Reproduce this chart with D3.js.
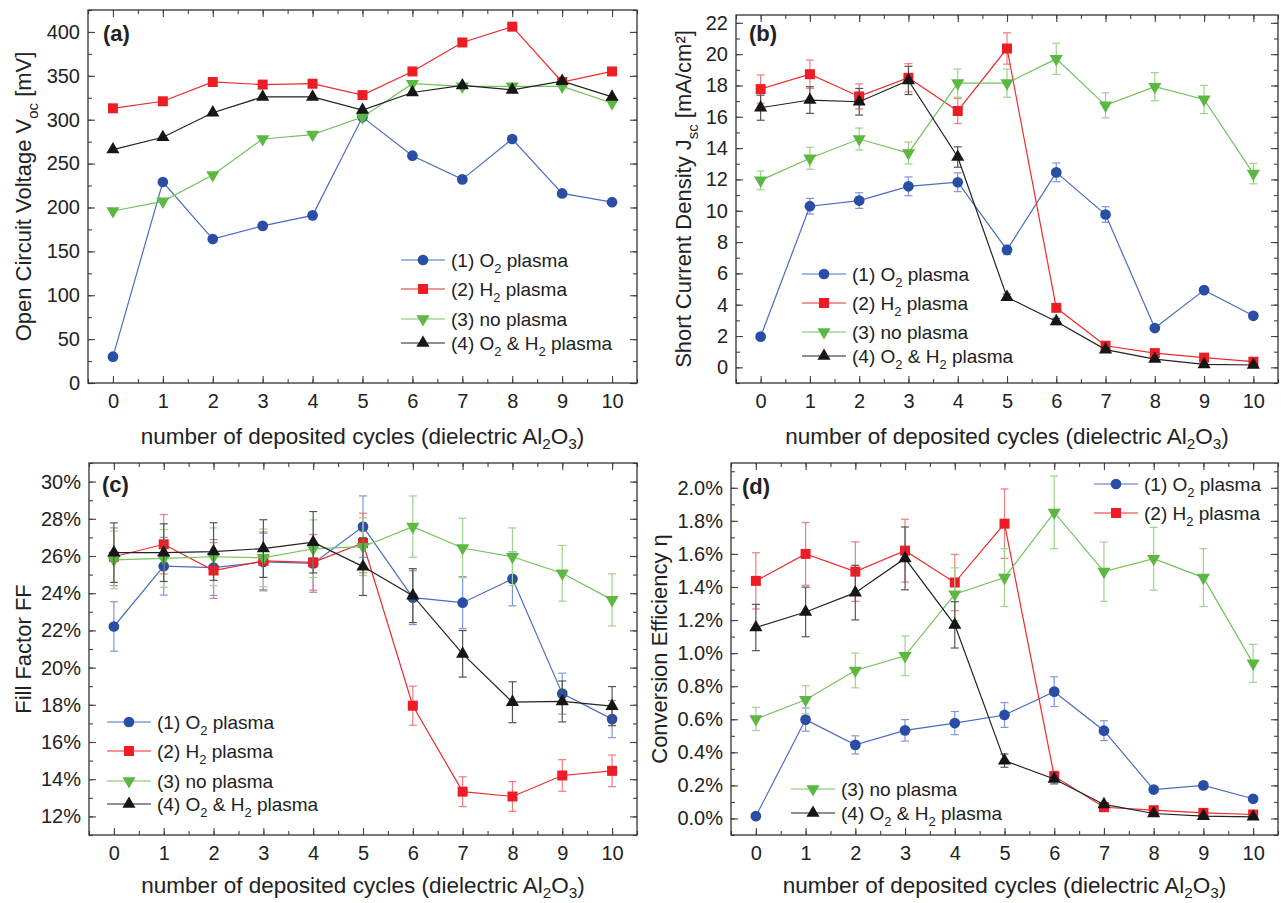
<!DOCTYPE html>
<html>
<head>
<meta charset="utf-8">
<script src="https://cdn.jsdelivr.net/npm/d3@7"></script>
<style>
  body { margin: 0; background: #fff; }
  text { font-family: "Liberation Sans", Arial, sans-serif; fill: #222; }
</style>
</head>
<body>
<div id="chart"></div>
<script>
// number of deposited cycles
const cycles = [0, 1, 2, 3, 4, 5, 6, 7, 8, 9, 10];
const seriesNames = ["(1) O{2} plasma", "(2) H{2} plasma", "(3) no plasma", "(4) O{2} & H{2} plasma"];

// (a) open circuit voltage [mV]
const vocO2   = [30, 229, 164, 179, 191, 303, 259, 232, 278, 216, 206];
const vocH2   = [313, 321, 343, 340, 341, 328, 355, 388, 406, 343, 355];
const vocNo   = [196, 207, 237, 278, 283, 303, 341, 338, 338, 338, 319];
const vocBoth = [266, 280, 308, 326, 326, 311, 331, 339, 334, 344, 326];

// (b) short current density [mA/cm2]
const jscO2      = [1.96, 10.29, 10.65, 11.56, 11.82, 7.50, 12.45, 9.76, 2.51, 4.93, 3.29];
const jscO2Err   = [0.1, 0.5, 0.5, 0.6, 0.6, 0.3, 0.6, 0.5, 0.1, 0.15, 0.15];
const jscH2      = [17.77, 18.72, 17.30, 18.49, 16.37, 20.36, 3.80, 1.38, 0.91, 0.62, 0.36];
const jscH2Err   = [0.9, 0.9, 0.8, 0.9, 0.8, 1.0, 0.2, 0.1, 0.1, 0.05, 0.05];
const jscNo      = [11.94, 13.35, 14.58, 13.69, 18.15, 18.15, 19.70, 16.73, 17.92, 17.11, 12.37];
const jscNoErr   = [0.6, 0.7, 0.7, 0.7, 0.9, 0.9, 1.0, 0.8, 0.9, 0.9, 0.65];
const jscBoth    = [16.58, 17.07, 16.96, 18.32, 13.43, 4.48, 2.93, 1.13, 0.53, 0.19, 0.15];
const jscBothErr = [0.8, 0.85, 0.85, 0.9, 0.65, 0.2, 0.2, 0.15, 0.15, 0.05, 0.05];

// (c) fill factor [%]
const ffO2      = [22.21, 25.45, 25.38, 25.68, 25.60, 27.58, 23.76, 23.49, 24.77, 18.60, 17.23];
const ffO2Err   = [1.33, 1.55, 1.5, 1.55, 1.55, 1.65, 1.45, 1.4, 1.45, 1.1, 1.0];
const ffH2      = [25.96, 26.63, 25.22, 25.74, 25.66, 26.70, 17.95, 13.33, 13.07, 14.20, 14.45];
const ffH2Err   = [1.55, 1.6, 1.5, 1.55, 1.5, 1.6, 1.05, 0.8, 0.8, 0.85, 0.85];
const ffNo      = [25.79, 25.87, 25.96, 25.90, 26.39, 26.50, 27.58, 26.43, 25.96, 25.07, 23.64];
const ffNoErr   = [1.55, 1.55, 1.55, 1.55, 1.55, 1.55, 1.65, 1.6, 1.55, 1.5, 1.4];
const ffBoth    = [26.18, 26.18, 26.24, 26.40, 26.74, 25.43, 23.87, 20.74, 18.14, 18.18, 17.93];
const ffBothErr = [1.6, 1.55, 1.55, 1.55, 1.65, 1.55, 1.45, 1.25, 1.1, 1.1, 1.05];

// (d) conversion efficiency [%]
const etaO2      = [0.014, 0.598, 0.445, 0.533, 0.577, 0.626, 0.767, 0.531, 0.175, 0.200, 0.119];
const etaO2Err   = [0.01, 0.07, 0.055, 0.065, 0.07, 0.075, 0.09, 0.06, 0.015, 0.02, 0.01];
const etaH2      = [1.437, 1.600, 1.493, 1.620, 1.427, 1.783, 0.256, 0.068, 0.050, 0.034, 0.024];
const etaH2Err   = [0.17, 0.19, 0.18, 0.19, 0.17, 0.21, 0.03, 0.01, 0.01, 0.005, 0.005];
const etaNo      = [0.602, 0.718, 0.895, 0.984, 1.356, 1.457, 1.851, 1.493, 1.571, 1.457, 0.938];
const etaNoErr   = [0.07, 0.085, 0.105, 0.12, 0.16, 0.175, 0.22, 0.18, 0.19, 0.175, 0.115];
const etaBoth    = [1.155, 1.249, 1.366, 1.573, 1.171, 0.350, 0.239, 0.085, 0.030, 0.014, 0.010];
const etaBothErr = [0.14, 0.15, 0.165, 0.19, 0.14, 0.04, 0.03, 0.01, 0.005, 0.003, 0.003];

// look of the four series
const styles = [
  { marker: "#2a4ea6", line: "#4a6cc4", err: "#7f97d6", symbol: d3.symbolCircle, size: 90, rot: 0 },
  { marker: "#ee1c24", line: "#ee2a2a", err: "#f27b7b", symbol: d3.symbolSquare, size: 100, rot: 0 },
  { marker: "#5db843", line: "#72c35c", err: "#9cd48b", symbol: d3.symbolTriangle, size: 75, rot: 180 },
  { marker: "#161616", line: "#222", err: "#555", symbol: d3.symbolTriangle, size: 75, rot: 0 }
];

const panels = [
  { tag: "(a)", left: 88, right: 637, top: 10, bottom: 383, yDomain: [0, 425],
    yTicks: d3.range(0, 401, 50), yMinor: d3.range(0, 426, 25), fmt: d => d,
    ylabel: "Open Circuit Voltage V{oc} [mV]", ylabelX: 31, tagX: 103, tagY: 41, xlabelY: 444,
    series: [vocO2, vocH2, vocNo, vocBoth], errs: null,
    legend: { x: 401, ys: [260, 289, 319, 343], rows: [0, 1, 2, 3] } },
  { tag: "(b)", left: 736, right: 1278, top: 15, bottom: 383, yDomain: [-1, 22.5],
    yTicks: d3.range(0, 23, 2), yMinor: d3.range(-1, 23, 1), fmt: d => d,
    ylabel: "Short Current Density J{sc} [mA/cm²]", ylabelX: 691, tagX: 749, tagY: 41, xlabelY: 444,
    series: [jscO2, jscH2, jscNo, jscBoth], errs: [jscO2Err, jscH2Err, jscNoErr, jscBothErr],
    legend: { x: 802, ys: [274, 303, 332, 356], rows: [0, 1, 2, 3] } },
  { tag: "(c)", left: 89, right: 637, top: 463, bottom: 835, yDomain: [11, 31],
    yTicks: d3.range(12, 31, 2), yMinor: d3.range(11, 32, 1), fmt: d => d + "%",
    ylabel: "Fill Factor FF", ylabelX: 31, tagX: 102, tagY: 492, xlabelY: 893,
    series: [ffO2, ffH2, ffNo, ffBoth], errs: [ffO2Err, ffH2Err, ffNoErr, ffBothErr],
    legend: { x: 107, ys: [722, 751, 781, 804], rows: [0, 1, 2, 3] } },
  { tag: "(d)", left: 731, right: 1278, top: 463, bottom: 835, yDomain: [-0.1, 2.15],
    yTicks: d3.range(0, 2.01, 0.2), yMinor: d3.range(-0.1, 2.16, 0.1), fmt: d => d.toFixed(1) + "%",
    ylabel: "Conversion Efficiency η", ylabelX: 667, tagX: 742, tagY: 494, xlabelY: 893,
    series: [etaO2, etaH2, etaNo, etaBoth], errs: [etaO2Err, etaH2Err, etaNoErr, etaBothErr],
    legend: [{ x: 1094, ys: [484, 513], rows: [0, 1] }, { x: 791, ys: [789, 813], rows: [2, 3] }] }
];

const svg = d3.select("#chart").append("svg")
  .attr("width", 1281).attr("height", 903);

// text with {subscript} parts
function rich(sel, str, size, drop) {
  const shift = size * (drop || 0.3);
  let down = false;
  str.split(/(\{[^}]*\})/).filter(s => s).forEach(p => {
    if (p[0] === "{") {
      sel.append("tspan").attr("font-size", size * 0.68).attr("dy", shift).text(p.slice(1, -1));
      down = true;
    } else {
      sel.append("tspan").attr("dy", down ? -shift : 0).text(p);
      down = false;
    }
  });
}

function marker(g, st, x, y) {
  g.append("path")
    .attr("d", d3.symbol().type(st.symbol).size(st.size))
    .attr("transform", `translate(${x},${y}) rotate(${st.rot})`)
    .attr("fill", st.marker);
}

panels.forEach(p => {
  const x = d3.scaleLinear().domain([-0.5, 10.5]).range([p.left, p.right]);
  const y = d3.scaleLinear().domain(p.yDomain).range([p.bottom, p.top]);
  const g = svg.append("g");

  // ticks on all four sides, pointing inward
  const axes = [
    [d3.axisBottom(x).tickValues(cycles).tickSize(-7), p.bottom, "x", true],
    [d3.axisBottom(x).tickValues(d3.range(-0.5, 10.6, 0.5)).tickSize(-4).tickFormat(""), p.bottom, "x", false],
    [d3.axisTop(x).tickValues(cycles).tickSize(-7).tickFormat(""), p.top, "x", false],
    [d3.axisTop(x).tickValues(d3.range(-0.5, 10.6, 0.5)).tickSize(-4).tickFormat(""), p.top, "x", false],
    [d3.axisLeft(y).tickValues(p.yTicks).tickSize(-7).tickFormat(p.fmt), p.left, "y", true],
    [d3.axisLeft(y).tickValues(p.yMinor).tickSize(-4).tickFormat(""), p.left, "y", false],
    [d3.axisRight(y).tickValues(p.yTicks).tickSize(-7).tickFormat(""), p.right, "y", false],
    [d3.axisRight(y).tickValues(p.yMinor).tickSize(-4).tickFormat(""), p.right, "y", false]
  ];
  axes.forEach(([ax, pos, dir, labels]) => {
    const a = g.append("g")
      .attr("transform", dir === "x" ? `translate(0,${pos})` : `translate(${pos},0)`)
      .call(ax.tickPadding(dir === "x" ? 11 : 8));
    a.select(".domain").remove();
    a.selectAll(".tick line").attr("stroke", "#444").attr("stroke-width", 1.1);
    if (labels) a.selectAll(".tick text").attr("font-size", 20).attr("fill", "#222")
      .attr("font-family", "Liberation Sans, Arial, sans-serif");
  });

  g.append("rect")
    .attr("x", p.left).attr("y", p.top)
    .attr("width", p.right - p.left).attr("height", p.bottom - p.top)
    .attr("fill", "none").attr("stroke", "#333").attr("stroke-width", 1.3);

  // series: error bars, line, markers
  p.series.forEach((vals, si) => {
    const st = styles[si];
    if (p.errs) {
      const e = p.errs[si];
      const eg = g.append("g").attr("stroke", st.err).attr("stroke-width", 1.2);
      vals.forEach((v, i) => {
        const cx = x(cycles[i]), y1 = y(v - e[i]), y2 = y(v + e[i]);
        eg.append("line").attr("x1", cx).attr("x2", cx).attr("y1", y1).attr("y2", y2);
        eg.append("line").attr("x1", cx - 4).attr("x2", cx + 4).attr("y1", y1).attr("y2", y1);
        eg.append("line").attr("x1", cx - 4).attr("x2", cx + 4).attr("y1", y2).attr("y2", y2);
      });
    }
    g.append("path")
      .datum(vals)
      .attr("d", d3.line().x((d, i) => x(cycles[i])).y(d => y(d)))
      .attr("fill", "none").attr("stroke", st.line).attr("stroke-width", 1.2);
    vals.forEach((v, i) => marker(g, st, x(cycles[i]), y(v)));
  });

  // legend
  [].concat(p.legend).forEach(lg => {
    lg.rows.forEach((si, k) => {
      const st = styles[si], ly = lg.ys[k];
      g.append("line").attr("x1", lg.x).attr("x2", lg.x + 44).attr("y1", ly).attr("y2", ly)
        .attr("stroke", st.line).attr("stroke-width", 1.2);
      marker(g, st, lg.x + 22, ly);
      const t = g.append("text").attr("x", lg.x + 50).attr("y", ly + 7).attr("font-size", 19);
      rich(t, seriesNames[si], 19);
    });
  });

  // axis titles and panel tag
  const xt = g.append("text").attr("x", (p.left + p.right) / 2).attr("y", p.xlabelY)
    .attr("text-anchor", "middle").attr("font-size", 22.5);
  rich(xt, "number of deposited cycles (dielectric Al{2}O{3})", 22.5, 0.22);

  const yt = g.append("text")
    .attr("transform", `translate(${p.ylabelX},${(p.top + p.bottom) / 2}) rotate(-90)`)
    .attr("text-anchor", "middle").attr("font-size", 22);
  rich(yt, p.ylabel, 22);

  g.append("text").attr("x", p.tagX).attr("y", p.tagY)
    .attr("font-size", 22).attr("font-weight", "bold").text(p.tag);
});
</script>
</body>
</html>
